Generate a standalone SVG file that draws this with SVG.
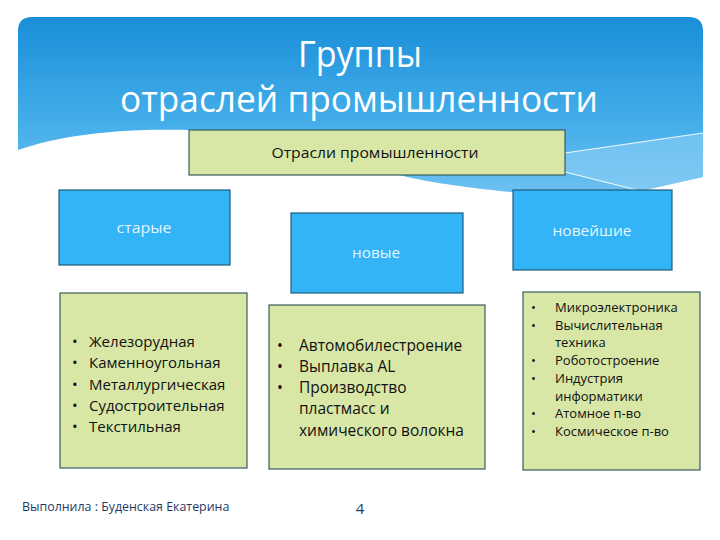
<svg xmlns="http://www.w3.org/2000/svg" width="720" height="540" viewBox="0 0 720 540">
  <defs>
    <linearGradient id="bannerGrad" x1="0" y1="0" x2="0" y2="1">
      <stop offset="0" stop-color="#1a8ed9"/>
      <stop offset="0.6" stop-color="#44aee9"/>
      <stop offset="1" stop-color="#6cc0f0"/>
    </linearGradient>
    <style>
      .title { font-family: "Open Sans", "Liberation Sans", sans-serif; fill: #ffffff; font-size: 36px; text-anchor: middle; }
      .green { fill: #d8e7a6; stroke: #3b5b5f; stroke-width: 1.2; }
      .blue { fill: #33b4f6; stroke: #1d5c7c; stroke-width: 1.2; }
      .bt { font-family: "Open Sans", "Liberation Sans", sans-serif; fill: #e6f4ff; font-size: 14px; text-anchor: middle; }
      .lt { font-family: "Open Sans", "Liberation Sans", sans-serif; fill: #111111; font-size: 15px; }
      .mt { font-family: "Open Sans", "Liberation Sans", sans-serif; fill: #111111; font-size: 15.5px; }
      .st { font-family: "Open Sans", "Liberation Sans", sans-serif; fill: #111111; font-size: 13px; }
      .foot { font-family: "Open Sans", "Liberation Sans", sans-serif; fill: #1f3a64; }
    </style>
  </defs>
  <rect x="0" y="0" width="720" height="540" fill="#ffffff"/>
  <!-- banner background -->
  <path d="M18,31 Q18,17 32,17 L689,17 Q703,17 703,31 L703,177 L645,190 L520,193 C470,188 440,184 407,177 C340,160 290,130 190,130 C120,128 60,135 18,150 Z" fill="url(#bannerGrad)"/>
  <path d="M565,153 L703,133 L703,177 L645,190 L636,190 L565,172 Z" fill="#8fd0f5" opacity="0.55"/>
  <path d="M565,153 L703,133" stroke="#ffffff" stroke-width="1.2" fill="none" opacity="0.9"/>
  <path d="M565,172 L637,190" stroke="#ffffff" stroke-width="1.2" fill="none" opacity="0.9"/>
  <text class="title" x="360" y="67" textLength="124" lengthAdjust="spacingAndGlyphs">Группы</text>
  <text class="title" x="359" y="112" textLength="478" lengthAdjust="spacingAndGlyphs">отраслей промышленности</text>

  <g id="root">
    <rect class="green" x="189" y="130" width="376" height="45"/>
    <text x="375" y="158" font-family="'Open Sans', 'Liberation Sans', sans-serif" font-size="14" fill="#111" text-anchor="middle" textLength="207" lengthAdjust="spacingAndGlyphs">Отрасли промышленности</text>
  </g>

  <g id="old">
    <rect class="blue" x="59" y="190" width="171" height="75"/>
    <text class="bt" x="144" y="233" textLength="55" lengthAdjust="spacingAndGlyphs">старые</text>
  </g>
  <g id="new">
    <rect class="blue" x="291" y="213" width="172" height="80"/>
    <text class="bt" x="376" y="258" textLength="48" lengthAdjust="spacingAndGlyphs">новые</text>
  </g>
  <g id="newest">
    <rect class="blue" x="513" y="190" width="159" height="80"/>
    <text class="bt" x="592" y="236" textLength="79" lengthAdjust="spacingAndGlyphs">новейшие</text>
  </g>

  <g id="old-list">
    <rect class="green" x="60" y="293" width="187" height="175"/>
    <g class="lt">
      <text x="72" y="347">•</text><text x="89" y="347">Железорудная</text>
      <text x="72" y="368">•</text><text x="89" y="368">Каменноугольная</text>
      <text x="72" y="390">•</text><text x="89" y="390">Металлургическая</text>
      <text x="72" y="411">•</text><text x="89" y="411">Судостроительная</text>
      <text x="72" y="432">•</text><text x="89" y="432">Текстильная</text>
    </g>
  </g>

  <g id="new-list">
    <rect class="green" x="269" y="305" width="216" height="164"/>
    <g class="mt">
      <text x="277" y="351">•</text><text x="299" y="351">Автомобилестроение</text>
      <text x="277" y="372">•</text><text x="299" y="372">Выплавка AL</text>
      <text x="277" y="393">•</text><text x="299" y="393">Производство</text>
      <text x="299" y="414">пластмасс и</text>
      <text x="299" y="436">химического волокна</text>
    </g>
  </g>

  <g id="newest-list">
    <rect class="green" x="523" y="292" width="177" height="178"/>
    <g class="st">
      <text x="531" y="312">•</text><text x="555" y="312">Микроэлектроника</text>
      <text x="531" y="330">•</text><text x="555" y="330">Вычислительная</text>
      <text x="555" y="347">техника</text>
      <text x="531" y="365">•</text><text x="555" y="365">Роботостроение</text>
      <text x="531" y="383">•</text><text x="555" y="383">Индустрия</text>
      <text x="555" y="401">информатики</text>
      <text x="531" y="418">•</text><text x="555" y="418">Атомное п-во</text>
      <text x="531" y="436">•</text><text x="555" y="436">Космическое п-во</text>
    </g>
  </g>

  <text class="foot" x="22" y="511" font-size="12.4">Выполнила : Буденская Екатерина</text>
  <text class="foot" x="360" y="514" font-size="15" text-anchor="middle">4</text>
</svg>
